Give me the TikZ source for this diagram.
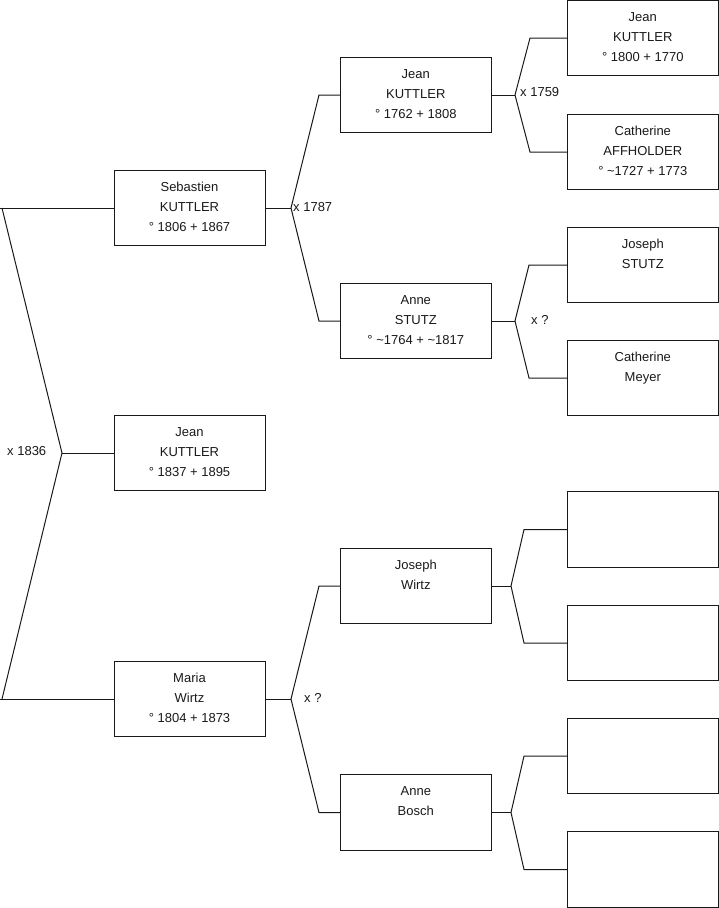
\documentclass[tikz,border=0pt]{standalone}
\usepackage{fontspec}
\setmainfont{Liberation Sans}
\begin{document}
\begin{tikzpicture}[x=1pt,y=-1pt,
 box/.style={draw=black!90, line width=1pt, minimum width=151pt, minimum height=75.5pt, inner xsep=0pt, inner ysep=0pt, align=center, font=\fontsize{13}{20}\selectfont, text=black!90},
 link/.style={draw=black!90, line width=1pt},
 lab/.style={anchor=west, inner sep=0pt, font=\fontsize{13}{15}\selectfont, text=black!90}]
\useasboundingbox (0,0) rectangle (719,908);
% generation 1
\node[box] (g1a) at (189.5,208) {Sebastien\\KUTTLER\\° 1806 + 1867\\[-18pt]\mbox{}};
\node[box] (g1c) at (189.5,453) {Jean\\KUTTLER\\° 1837 + 1895\\[-18pt]\mbox{}};
\node[box] (g1b) at (189.5,699) {Maria\\Wirtz\\° 1804 + 1873\\[-18pt]\mbox{}};
% generation 2
\node[box] (g2a) at (415.8,95) {Jean\\KUTTLER\\° 1762 + 1808\\[-18pt]\mbox{}};
\node[box] (g2b) at (415.8,321) {Anne\\STUTZ\\° \textasciitilde1764 + \textasciitilde1817\\[-18pt]\mbox{}};
\node[box] (g2c) at (415.8,586) {Joseph\\Wirtz\\\mbox{}\\[-18pt]\mbox{}};
\node[box] (g2d) at (415.8,812.5) {Anne\\Bosch\\\mbox{}\\[-18pt]\mbox{}};
% generation 3
\node[box] (g3a) at (642.8,38) {Jean\\KUTTLER\\° 1800 + 1770\\[-18pt]\mbox{}};
\node[box] (g3b) at (642.8,152) {Catherine\\AFFHOLDER\\° \textasciitilde1727 + 1773\\[-18pt]\mbox{}};
\node[box] (g3c) at (642.8,265) {Joseph\\STUTZ\\\mbox{}\\[-18pt]\mbox{}};
\node[box] (g3d) at (642.8,378) {Catherine\\Meyer\\\mbox{}\\[-18pt]\mbox{}};
\node[box] (g3e) at (642.8,529.5) {};
\node[box] (g3f) at (642.8,643) {};
\node[box] (g3g) at (642.8,756) {};
\node[box] (g3h) at (642.8,869.5) {};
% root fork
\coordinate (r0) at (0,208);
\coordinate (r1) at (2,208);
\coordinate (rv) at (62,453);
\coordinate (r2) at (2,699);
\coordinate (r3) at (0,699);
\draw[link] (r0) -- (g1a.west);
\draw[link] (r1) -- (rv) -- (r2);
\draw[link] (r3) -- (g1b.west);
\draw[link] (rv) -- (g1c.west);
\node[lab] (l0) at (7,451) {x 1836};
% fork of Sebastien
\coordinate (v1) at (291,208);
\coordinate (v1a) at (319,95);
\coordinate (v1b) at (319,321);
\draw[link] (g1a.east) -- (v1);
\draw[link] (g2a.west) -- (v1a) -- (v1) -- (v1b) -- (g2b.west);
\node[lab] (l1) at (293,207) {x 1787};
% fork of Maria
\coordinate (v2) at (291,699);
\coordinate (v2a) at (319,586);
\coordinate (v2b) at (319,812.5);
\draw[link] (g1b.east) -- (v2);
\draw[link] (g2c.west) -- (v2a) -- (v2) -- (v2b) -- (g2d.west);
\node[lab] (l2) at (304,698) {x ?};
% fork of Jean (gen 2)
\coordinate (v3) at (515,95);
\coordinate (v3a) at (530,38);
\coordinate (v3b) at (530,152);
\draw[link] (g2a.east) -- (v3);
\draw[link] (g3a.west) -- (v3a) -- (v3) -- (v3b) -- (g3b.west);
\node[lab] (l3) at (520,92) {x 1759};
% fork of Anne STUTZ
\coordinate (v4) at (515,321);
\coordinate (v4a) at (529,265);
\coordinate (v4b) at (529,378);
\draw[link] (g2b.east) -- (v4);
\draw[link] (g3c.west) -- (v4a) -- (v4) -- (v4b) -- (g3d.west);
\node[lab] (l4) at (531,320) {x ?};
% fork of Joseph Wirtz
\coordinate (v5) at (511,586);
\coordinate (v5a) at (524,529.5);
\coordinate (v5b) at (524,643);
\draw[link] (g2c.east) -- (v5);
\draw[link] (g3e.west) -- (v5a) -- (v5) -- (v5b) -- (g3f.west);
% fork of Anne Bosch
\coordinate (v6) at (511,812.5);
\coordinate (v6a) at (524,756);
\coordinate (v6b) at (524,869.5);
\draw[link] (g2d.east) -- (v6);
\draw[link] (g3g.west) -- (v6a) -- (v6) -- (v6b) -- (g3h.west);
\end{tikzpicture}
\end{document}
